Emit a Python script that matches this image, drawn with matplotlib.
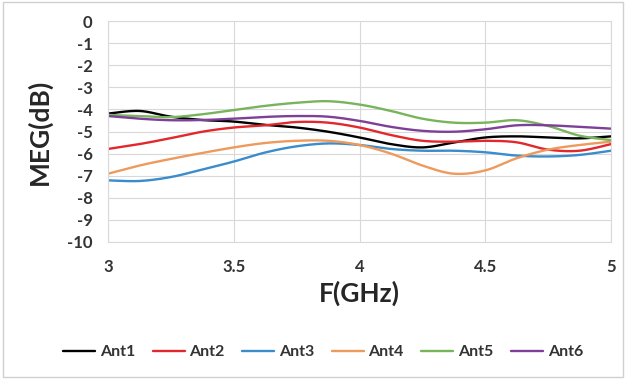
import numpy as np
import matplotlib
matplotlib.use("Agg")
import matplotlib.pyplot as plt
from matplotlib.patches import Rectangle

# Frequency samples (GHz) and MEG values (dB) per antenna
freq = [3.0, 3.125, 3.25, 3.375, 3.5, 3.625, 3.75, 3.875, 4.0,
        4.125, 4.25, 4.375, 4.5, 4.625, 4.75, 4.875, 5.0]
ant1 = [-4.19, -4.07, -4.33, -4.48, -4.55, -4.7, -4.82, -5.01, -5.27,
        -5.57, -5.72, -5.5, -5.27, -5.22, -5.27, -5.31, -5.22]
ant2 = [-5.79, -5.57, -5.3, -5.01, -4.82, -4.72, -4.57, -4.6, -4.82,
        -5.16, -5.42, -5.46, -5.42, -5.49, -5.82, -5.87, -5.57]
ant3 = [-7.21, -7.24, -7.06, -6.72, -6.36, -5.95, -5.67, -5.54, -5.61,
        -5.79, -5.87, -5.87, -5.94, -6.09, -6.13, -6.06, -5.87]
ant4 = [-6.91, -6.54, -6.24, -5.97, -5.72, -5.52, -5.42, -5.42, -5.61,
        -6.0, -6.54, -6.91, -6.76, -6.21, -5.82, -5.61, -5.46]
ant5 = [-4.25, -4.3, -4.35, -4.22, -4.03, -3.84, -3.7, -3.63, -3.78,
        -4.07, -4.42, -4.6, -4.6, -4.49, -4.75, -5.19, -5.39]
ant6 = [-4.3, -4.42, -4.49, -4.48, -4.42, -4.34, -4.3, -4.33, -4.52,
        -4.79, -4.97, -5.01, -4.9, -4.72, -4.72, -4.79, -4.87]

series = [ant1, ant2, ant3, ant4, ant5, ant6]
names = ["Ant1", "Ant2", "Ant3", "Ant4", "Ant5", "Ant6"]
colors = ["#000000", "#e2282c", "#3a8ccb", "#ee9a5c", "#78b45c", "#7e3f98"]

x_ticks = [3, 3.5, 4, 4.5, 5]
x_tick_labels = ["3", "3.5", "4", "4.5", "5"]
y_ticks = list(range(-10, 1))


def smooth(xs, ys, n=20):
    """Cubic Bezier smoothing through every point (spreadsheet-style)."""
    xs = np.asarray(xs, float)
    ys = np.asarray(ys, float)
    px = np.concatenate([[xs[0]], xs, [xs[-1]]])
    py = np.concatenate([[ys[0]], ys, [ys[-1]]])
    out_x, out_y = [], []
    t = np.linspace(0, 1, n)
    k = 1.0 / 6.0
    for i in range(1, len(px) - 2):
        p0 = np.array([px[i], py[i]])
        p3 = np.array([px[i + 1], py[i + 1]])
        c1 = p0 + k * (np.array([px[i + 1], py[i + 1]]) - np.array([px[i - 1], py[i - 1]]))
        c2 = p3 - k * (np.array([px[i + 2], py[i + 2]]) - np.array([px[i], py[i]]))
        b = ((1 - t) ** 3)[:, None] * p0 + (3 * (1 - t) ** 2 * t)[:, None] * c1 \
            + (3 * (1 - t) * t ** 2)[:, None] * c2 + (t ** 3)[:, None] * p3
        out_x.extend(b[:, 0])
        out_y.extend(b[:, 1])
    return np.array(out_x), np.array(out_y)


plt.rcParams["font.family"] = ["Lato", "DejaVu Sans"]
plt.rcParams["font.weight"] = "bold"
plt.rcParams["axes.unicode_minus"] = False

fig = plt.figure(figsize=(6.26, 3.79), dpi=100)
fig.patches.append(Rectangle((0.004, 0.006), 0.992, 0.988, transform=fig.transFigure,
                             fill=False, edgecolor="#d0d0d0", linewidth=1.0))

ax = fig.add_axes([108 / 626, 1 - 242 / 379, (611 - 108) / 626, (242 - 21) / 379])

for ys, name, c in zip(series, names, colors):
    sx, sy = smooth(freq, ys)
    ax.plot(sx, sy, color=c, linewidth=1.7, label=name, solid_capstyle="round")

ax.set_xlim(3, 5)
ax.set_ylim(-10, 0)
ax.set_xticks(x_ticks)
ax.set_xticklabels(x_tick_labels)
ax.set_yticks(y_ticks)
ax.grid(True, color="#d9d9d9", linewidth=0.8)
ax.set_axisbelow(True)
for s in ax.spines.values():
    s.set_color("#d9d9d9")
    s.set_linewidth(0.8)
ax.tick_params(length=0, labelsize=12, colors="#333333")
ax.tick_params(axis="y", pad=11)
ax.tick_params(axis="x", pad=12)
for lab in ax.get_xticklabels() + ax.get_yticklabels():
    lab.set_fontweight("bold")

ax.set_xlabel("F(GHz)", fontsize=19, fontweight="bold", color="#262626")
ax.set_ylabel("MEG(dB)", fontsize=19, fontweight="bold", color="#262626")
ax.xaxis.label.set_va("center")
ax.yaxis.label.set_va("center")
ax.xaxis.set_label_coords(0.5, -0.231)
ax.yaxis.set_label_coords(-0.137, 0.5)

leg = fig.legend(loc="center", bbox_to_anchor=(0.516, 1 - 352 / 379), ncol=6,
                 frameon=False, fontsize=11.5, handlelength=2.0, handletextpad=0.3,
                 columnspacing=1.1, borderpad=0)
for t in leg.get_texts():
    t.set_fontweight("bold")
    t.set_color("#333333")

fig.savefig("out.png", dpi=100)
